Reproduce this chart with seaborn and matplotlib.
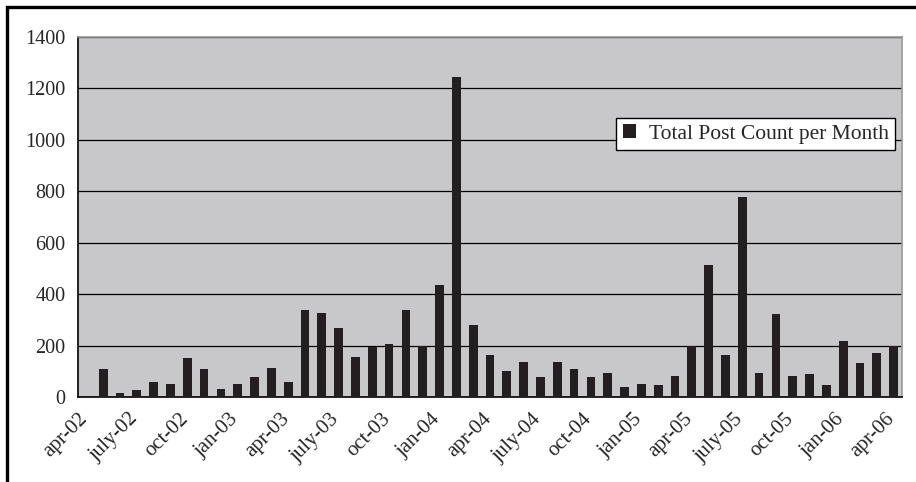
import matplotlib
matplotlib.use("Agg")
import matplotlib.pyplot as plt
import seaborn as sns
import pandas as pd

# === Data: monthly post counts, apr-02 .. apr-06 ===
months = [
    "apr-02", "may-02", "jun-02", "july-02", "aug-02", "sep-02", "oct-02", "nov-02", "dec-02",
    "jan-03", "feb-03", "mar-03", "apr-03", "may-03", "jun-03", "july-03", "aug-03", "sep-03",
    "oct-03", "nov-03", "dec-03", "jan-04", "feb-04", "mar-04", "apr-04", "may-04", "jun-04",
    "july-04", "aug-04", "sep-04", "oct-04", "nov-04", "dec-04", "jan-05", "feb-05", "mar-05",
    "apr-05", "may-05", "jun-05", "july-05", "aug-05", "sep-05", "oct-05", "nov-05", "dec-05",
    "jan-06", "feb-06", "mar-06", "apr-06",
]
posts = [
    0, 107, 14, 27, 59, 52, 151, 107, 33,
    52, 76, 113, 59, 340, 328, 267, 156, 193,
    207, 340, 199, 434, 1245, 279, 162, 100, 138,
    76, 138, 107, 76, 95, 39, 52, 46, 82,
    199, 512, 163, 777, 95, 322, 82, 89, 46,
    218, 132, 170, 199,
]
tick_labels = months[::3]
series_name = "Total Post Count per Month"

df = pd.DataFrame({"month": months, "posts": posts})

sns.set_style("white")
plt.rcParams["font.family"] = ["Liberation Serif", "DejaVu Serif"]

fig = plt.figure(figsize=(9.16, 4.82), dpi=100)
ax = fig.add_axes([78 / 916, 85 / 482, 824 / 916, 360 / 482])

sns.barplot(data=df, x="month", y="posts", color="#231f20", width=0.52,
            saturation=1, label=series_name, ax=ax, zorder=3,
            linewidth=0, edgecolor="#231f20")

ax.set_facecolor("#c8c8ca")
ax.set_xlim(-0.5, len(months) - 0.5)
ax.set_ylim(0, 1400)
ax.set_yticks(range(0, 1401, 200))
ax.yaxis.grid(True, color="black", linewidth=0.9)
ax.set_axisbelow(True)

# ticks between categories, every 3 months
ax.set_xticks([i - 0.5 for i in range(0, len(months), 3)])
ax.set_xticklabels(tick_labels, rotation=45, ha="right", va="top",
                   rotation_mode="anchor", fontsize=15)
ax.tick_params(axis="x", direction="out", length=5, width=1, color="black", pad=4)
ax.tick_params(axis="y", direction="out", length=5, width=1, color="black",
               labelsize=14.5, pad=4)
ax.set_xlabel("")
ax.set_ylabel("")

for side in ["left", "bottom"]:
    ax.spines[side].set_color("black")
    ax.spines[side].set_linewidth(1.2)
for side in ["top", "right"]:
    ax.spines[side].set_color("#9a9a9a")
    ax.spines[side].set_linewidth(1.2)

leg = ax.legend(loc="upper right", bbox_to_anchor=(0.9915, 0.775), borderaxespad=0,
                frameon=True, fancybox=False, fontsize=15.5, handlelength=0.6,
                handleheight=0.6, handletextpad=0.6, borderpad=0.3)
leg.get_frame().set_edgecolor("black")
leg.get_frame().set_linewidth(1.0)
leg.get_frame().set_facecolor("white")
leg.get_frame().set_alpha(1)

# outer frame of the picture (right/bottom edges fall outside)
fig.patches.append(plt.Rectangle((7 / 916, -0.1), 1.2, 1 - 7 / 482 + 0.1,
                                 transform=fig.transFigure, fill=False,
                                 edgecolor="black", linewidth=2.4))

fig.savefig("out.png", dpi=100)
